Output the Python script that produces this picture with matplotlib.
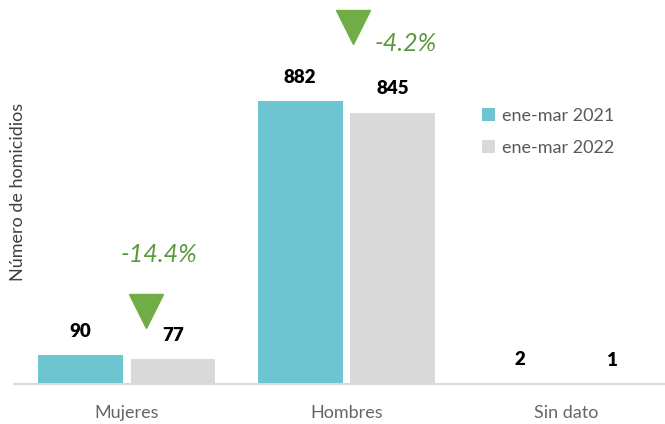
import matplotlib.pyplot as plt
import numpy as np

# data
categorias = ['Mujeres', 'Hombres', 'Sin dato']
serie_2021 = [90, 882, 2]
serie_2022 = [77, 845, 1]
etiquetas = ['ene-mar 2021', 'ene-mar 2022']
variaciones = ['-14.4%', '-4.2%', None]

teal = '#6cc5d1'
gris = '#d9d9d9'
verde = '#70ad47'
verde_txt = '#5b9a3c'

plt.rcParams['font.family'] = ['Lato', 'DejaVu Sans']

fig = plt.figure(figsize=(6.65, 4.24), dpi=100)
ax = fig.add_axes([0.021, 0.094, 0.979, 0.906])

x = np.arange(len(categorias))
w = 0.385
b1 = ax.bar(x - w / 2 - 0.018, serie_2021, w, color=teal, label=etiquetas[0])
b2 = ax.bar(x + w / 2 + 0.018, serie_2022, w, color=gris, label=etiquetas[1])

for bars in (b1, b2):
    for r in bars:
        ax.annotate(f'{int(r.get_height())}', (r.get_x() + r.get_width() / 2, r.get_height()),
                    xytext=(0, 11), textcoords='offset points', ha='center', va='bottom',
                    fontsize=13.5, fontweight='heavy', color='black')

# triangles and percent changes
ax.plot(0.087, 228, marker='v', markersize=24, color=verde, linestyle='none')
ax.text(0.145, 405, variaciones[0], fontsize=18, style='italic', color=verde_txt, ha='center', va='center')
ax.plot(1.03, 1112, marker='v', markersize=24, color=verde, linestyle='none')
ax.text(1.13, 1060, variaciones[1], fontsize=18, style='italic', color=verde_txt, ha='left', va='center')

ax.set_xlim(-0.514, 2.45)
ax.set_ylim(0, 1196)
ax.set_xticks(x)
ax.set_xticklabels(categorias, fontsize=13, color='#666666')
ax.tick_params(axis='x', length=0, pad=15)
ax.set_yticks([])
for s in ['top', 'right', 'left']:
    ax.spines[s].set_visible(False)
ax.spines['bottom'].set_color('#d9d9d9')
ax.spines['bottom'].set_linewidth(1.5)

ax.set_ylabel('Número de homicidios', fontsize=13, color='#404040')
ax.yaxis.set_label_coords(0.018, 0.5)

ax.legend(loc='upper left', bbox_to_anchor=(0.719, 0.72), frameon=False, fontsize=13,
          labelcolor='#595959', handlelength=0.7, handleheight=0.7, handletextpad=0.4,
          labelspacing=0.9, borderpad=0, borderaxespad=0)

fig.savefig('out.png', dpi=100)
